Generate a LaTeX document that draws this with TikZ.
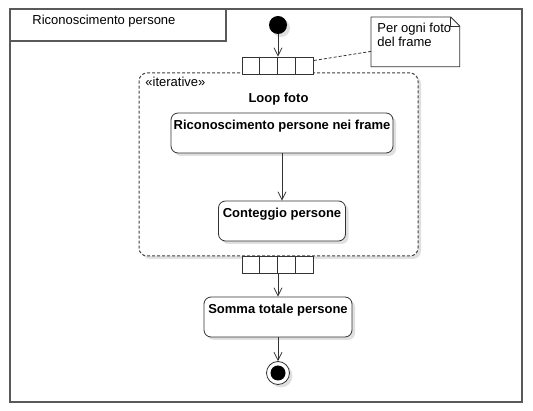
\documentclass[tikz,border=0pt]{standalone}
\usepackage{fontspec}
\setmainfont{Liberation Sans}
\usetikzlibrary{positioning,arrows.meta,shadows}

\tikzset{
  uml/.style={font=\fontsize{13}{14.5}\selectfont,line width=0.8pt},
  shade/.style={drop shadow={shadow xshift=3pt,shadow yshift=-3pt,fill=black!12,opacity=1}},
  startnode/.style={circle,fill=black,minimum size=18pt,inner sep=0pt,shade},
  endnode/.style={circle,draw=black!80,fill=white,minimum size=23pt,inner sep=0pt,shade},
  action/.style={draw=black!80,fill=white,rounded corners=7pt,shade,
    font=\bfseries\fontsize{13}{15}\selectfont,inner xsep=2pt,inner ysep=0pt,
    text height=16.5pt,text depth=23.5pt},
  expbox/.style={draw=black!80,fill=white,minimum width=71pt,minimum height=17pt,inner sep=0pt},
  region/.style={draw=black!75,line width=1pt,dash pattern=on 3pt off 2pt,rounded corners=8pt,fill=white,shade},
  frame/.style={draw=black!65,line width=1.4pt},
  flow/.style={-{Straight Barb[length=8pt,width=8pt]},draw=black!80},
}

\begin{document}
\begin{tikzpicture}[x=1pt,y=-1pt,uml,node distance=40pt,on grid]
   \useasboundingbox (0,0) rectangle (533,411);

   % frame
   \draw[frame] (10,9) rectangle (522,402);
   \draw[frame] (10,9) rectangle (226,41);
   \node[anchor=base west,inner sep=0pt] (title) at (32,24.5) {Riconoscimento persone};

   \node[startnode] (start) at (278,25) {};
   \node[region,minimum width=279pt,minimum height=183pt] (loop) at (278.5,164.5) {};
   \node[expbox] (expin) [below=40.5pt of start] {};
   \node[expbox] (expout) [below=199pt of expin] {};
   \foreach \i in {1,2,3} {
     \draw[black!80] ([xshift=\i*17.75pt]expin.north west) -- ([xshift=\i*17.75pt]expin.south west);
     \draw[black!80] ([xshift=\i*17.75pt]expout.north west) -- ([xshift=\i*17.75pt]expout.south west);
   }

   \node[anchor=base west,inner sep=0pt] (stereo) at (145,87) {«iterative»};
   \node[anchor=base,inner sep=0pt,font=\bfseries\fontsize{13}{15}\selectfont] (looplabel) at (278.5,103) {Loop foto};

   \node[action,minimum width=222pt] (recog) at (282,133) {Riconoscimento persone nei frame};
   \node[action,minimum width=127pt] (count) [below=88pt of recog] {Conteggio persone};
   \node[action,minimum width=148pt] (total) [below=52.5pt of expout] {Somma totale persone};
   \node[endnode] (final) [below=56pt of total] {};
   \fill (final) circle (7.5pt);

   % note
   \node[anchor=north west,minimum width=88pt,minimum height=49pt,inner sep=0pt] (note) at (371,17) {};
   \draw[black!80,fill=white] (note.north west) -- ([xshift=-9pt]note.north east)
      -- ([yshift=-9pt]note.north east) -- (note.south east) -- (note.south west) -- cycle;
   \draw[black!80] ([xshift=-9pt]note.north east) -- ([xshift=-9pt,yshift=-9pt]note.north east)
      -- ([yshift=-9pt]note.north east);
   \node[anchor=north west,inner sep=2pt,align=left] (notetext) at (375,20.5) {Per ogni foto\\del frame};

   \path[flow]
   (start) edge (expin)
   (recog) edge (count)
   (expout) edge (total)
   (total) edge (final);
   \draw[black!80,dash pattern=on 3pt off 2pt] ([yshift=5pt]expin.east) -- ([yshift=-9.5pt]note.west);
\end{tikzpicture}
\end{document}
